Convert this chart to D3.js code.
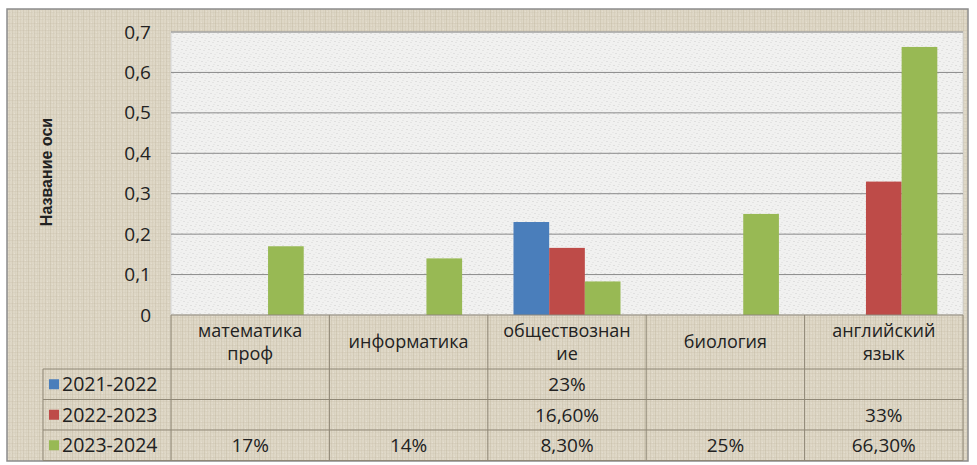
<!DOCTYPE html>
<html>
<head>
<meta charset="utf-8">
<script src="https://cdn.jsdelivr.net/npm/d3@7"></script>
<style>
  body { margin: 0; background: #fff; }
  text { font-family: "Open Sans", "Noto Sans", sans-serif; fill: #222; }
</style>
</head>
<body>
<script>
// Data
const categories = ['математика проф', 'информатика', 'обществознание', 'биология', 'английский язык'];
const categoryLines = [['математика', 'проф'], ['информатика'], ['обществознан', 'ие'], ['биология'], ['английский', 'язык']];
const seriesNames = ['2021-2022', '2022-2023', '2023-2024'];
const values2122 = [null, null, 0.23, null, null];
const values2223 = [null, null, 0.166, null, 0.33];
const values2324 = [0.17, 0.14, 0.083, 0.25, 0.663];
const labels2122 = ['', '', '23%', '', ''];
const labels2223 = ['', '', '16,60%', '', '33%'];
const labels2324 = ['17%', '14%', '8,30%', '25%', '66,30%'];
const yTicks = [0, 0.1, 0.2, 0.3, 0.4, 0.5, 0.6, 0.7];
const colors = ['#4a7ebb', '#be4b48', '#98b954'];

const seriesValues = [values2122, values2223, values2324];
const seriesLabels = [labels2122, labels2223, labels2324];

const width = 977;
const height = 465;
const plot = { left: 171, right: 963, top: 32, bottom: 315 };
const table = { left: 43, catBottom: 369, rowH: 30.5 };

const svg = d3.select('body')
  .append('svg')
  .attr('width', width)
  .attr('height', height);

// Textures (linen weave for the frame, speckle for the plot area)
const defs = svg.append('defs');
const linen = defs.append('pattern')
  .attr('id', 'linen')
  .attr('patternUnits', 'userSpaceOnUse')
  .attr('width', 11).attr('height', 7);
linen.append('rect').attr('width', 11).attr('height', 7).attr('fill', '#ded7c6');
[[1, 0.25], [4, 0.12], [6, 0.3], [9, 0.15]].forEach(([px, o]) => {
  linen.append('rect').attr('x', px).attr('y', 0).attr('width', 1).attr('height', 7)
    .attr('fill', '#b8ad94').attr('opacity', o);
});
[[2, 0.18], [5, 0.1]].forEach(([py, o]) => {
  linen.append('rect').attr('x', 0).attr('y', py).attr('width', 11).attr('height', 1)
    .attr('fill', '#b8ad94').attr('opacity', o);
});
[[3, 1, 0.35], [8, 4, 0.3], [0, 5, 0.25]].forEach(([px, py, o]) => {
  linen.append('rect').attr('x', px).attr('y', py).attr('width', 1).attr('height', 1)
    .attr('fill', '#f2eee4').attr('opacity', o);
});

const speck = defs.append('pattern')
  .attr('id', 'speck')
  .attr('patternUnits', 'userSpaceOnUse')
  .attr('width', 9).attr('height', 8);
speck.append('rect').attr('width', 9).attr('height', 8).attr('fill', '#f1f1f0');
[[1, 1, 0.35], [5, 2, 0.25], [3, 5, 0.3], [7, 6, 0.2], [0, 4, 0.15], [6, 0, 0.2]].forEach(([px, py, o]) => {
  speck.append('rect').attr('x', px).attr('y', py).attr('width', 2).attr('height', 1)
    .attr('fill', '#b9b9b9').attr('opacity', o);
});

// Outer frame
svg.append('rect')
  .attr('x', 7).attr('y', 9)
  .attr('width', 961).attr('height', 452)
  .attr('fill', 'url(#linen)')
  .attr('stroke', '#8c8c8c')
  .attr('stroke-width', 1.5);

// Plot area
svg.append('rect')
  .attr('x', plot.left).attr('y', plot.top)
  .attr('width', plot.right - plot.left).attr('height', plot.bottom - plot.top)
  .attr('fill', 'url(#speck)')
  .attr('stroke', '#d4d4d2')
  .attr('stroke-width', 1);

const x = d3.scaleBand()
  .domain(categories)
  .range([plot.left, plot.right]);
const xs = d3.scaleBand()
  .domain(seriesNames)
  .range([0, x.bandwidth()])
  .paddingOuter(0.72)
  .paddingInner(0);
const y = d3.scaleLinear()
  .domain([0, 0.7])
  .range([plot.bottom, plot.top]);

// Gridlines
svg.append('g')
  .selectAll('line')
  .data(yTicks.filter(d => d > 0))
  .enter()
  .append('line')
  .attr('x1', plot.left).attr('x2', plot.right)
  .attr('y1', d => y(d)).attr('y2', d => y(d))
  .attr('stroke', '#8a8a8a')
  .attr('stroke-width', 1);

// Y axis labels
const yAxis = d3.axisLeft(y)
  .tickValues(yTicks)
  .tickSize(0)
  .tickPadding(20)
  .tickFormat(d => d3.format('.1~f')(d).replace('.', ','));
const yg = svg.append('g')
  .attr('transform', `translate(${plot.left},0)`)
  .call(yAxis);
yg.select('.domain').remove();
yg.selectAll('text')
  .style('font-size', '19px')
  .attr('fill', '#222');

// Axis title
svg.append('text')
  .attr('transform', `translate(52,172) rotate(-90)`)
  .attr('text-anchor', 'middle')
  .style('font-family', '"Liberation Sans", Arial, sans-serif')
  .style('font-size', '16px')
  .style('font-weight', 'bold')
  .text('Название оси');

// Bars
seriesNames.forEach((s, si) => {
  svg.append('g')
    .selectAll('rect')
    .data(categories.map((c, i) => ({ c, v: seriesValues[si][i] })).filter(d => d.v !== null))
    .enter()
    .append('rect')
    .attr('x', d => x(d.c) + xs(s))
    .attr('width', xs.bandwidth())
    .attr('y', d => y(d.v))
    .attr('height', d => y(0) - y(d.v))
    .attr('fill', colors[si]);
});

// Data table
const grid = svg.append('g')
  .attr('stroke', '#8f8776')
  .attr('stroke-width', 1);
const rowTop = i => table.catBottom + i * table.rowH;
const tableBottom = rowTop(seriesNames.length);

grid.append('line')
  .attr('x1', plot.left).attr('x2', plot.right)
  .attr('y1', plot.bottom).attr('y2', plot.bottom);
d3.range(seriesNames.length + 1).forEach(i => {
  grid.append('line')
    .attr('x1', table.left).attr('x2', plot.right)
    .attr('y1', rowTop(i)).attr('y2', rowTop(i));
});
grid.append('line')
  .attr('x1', table.left).attr('x2', table.left)
  .attr('y1', table.catBottom).attr('y2', tableBottom);
categories.forEach(c => {
  grid.append('line')
    .attr('x1', x(c)).attr('x2', x(c))
    .attr('y1', plot.bottom).attr('y2', tableBottom);
});
grid.append('line')
  .attr('x1', plot.right).attr('x2', plot.right)
  .attr('y1', plot.bottom).attr('y2', tableBottom);

// Category labels
categories.forEach((c, i) => {
  const lines = categoryLines[i];
  const cy = (plot.bottom + table.catBottom) / 2;
  const t = svg.append('text')
    .attr('text-anchor', 'middle')
    .style('font-size', '18px');
  lines.forEach((l, li) => {
    t.append('tspan')
      .attr('x', x(c) + x.bandwidth() / 2)
      .attr('y', cy + 6 + (li - (lines.length - 1) / 2) * 23)
      .text(l);
  });
});

// Series rows
seriesNames.forEach((s, si) => {
  const cy = rowTop(si) + table.rowH / 2;
  svg.append('rect')
    .attr('x', 49).attr('y', cy - 5)
    .attr('width', 10).attr('height', 10)
    .attr('fill', colors[si]);
  svg.append('text')
    .attr('x', 62).attr('y', cy + 7)
    .style('font-size', '19.5px')
    .text(s);
  categories.forEach((c, i) => {
    svg.append('text')
      .attr('x', x(c) + x.bandwidth() / 2)
      .attr('y', cy + 7)
      .attr('text-anchor', 'middle')
      .style('font-size', '19px')
      .text(seriesLabels[si][i]);
  });
});
</script>
</body>
</html>
